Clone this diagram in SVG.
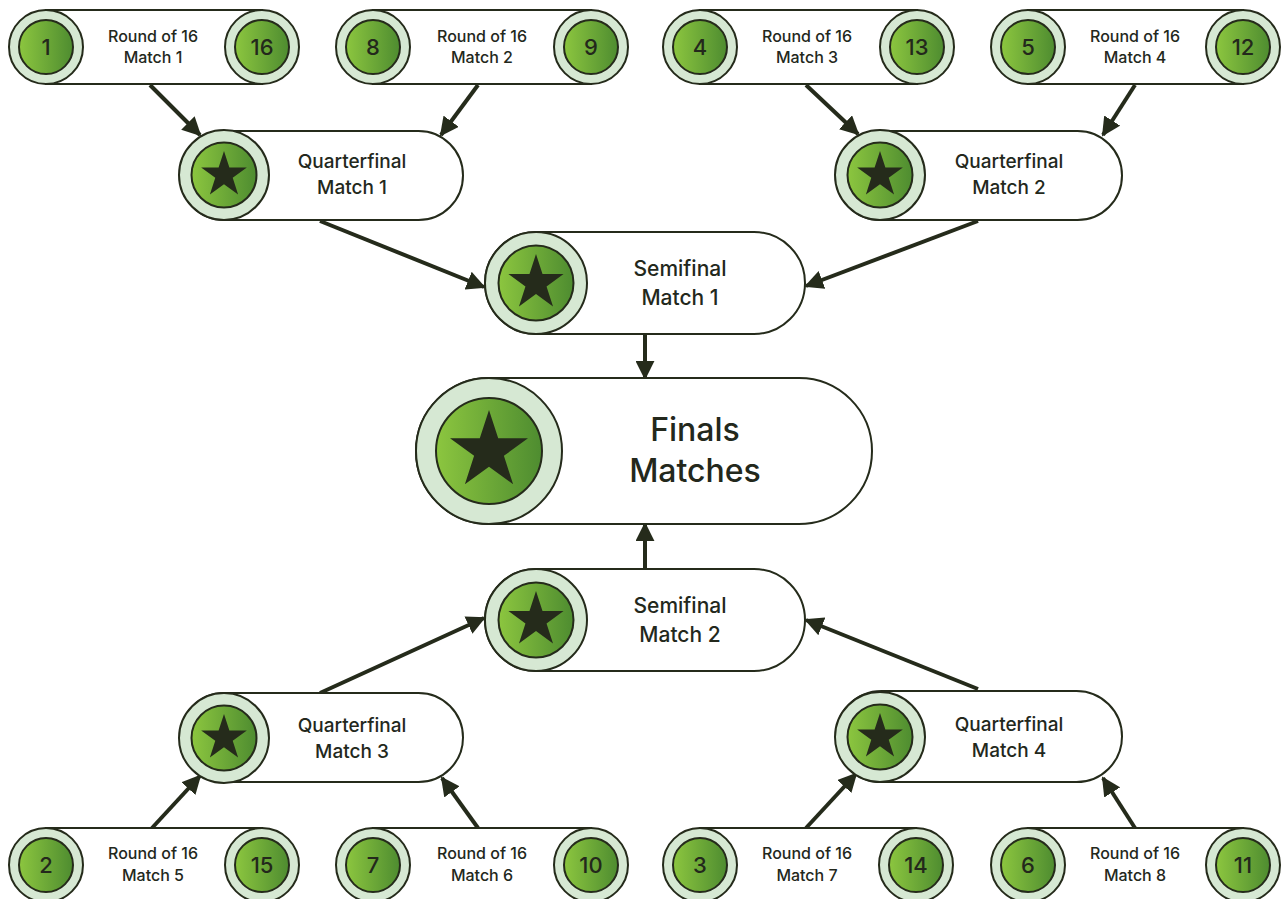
<svg xmlns="http://www.w3.org/2000/svg" xmlns:xlink="http://www.w3.org/1999/xlink" width="1286" height="899" viewBox="0 0 1286 899">
<defs>
<linearGradient id="g" x1="0" y1="0" x2="1" y2="0">
<stop offset="0" stop-color="#8cc63f"/>
<stop offset="1" stop-color="#4e8c30"/>
</linearGradient>
<path id="star" d="M0,-1 L0.2245,-0.309 L0.9511,-0.309 L0.3633,0.118 L0.5878,0.809 L0,0.382 L-0.5878,0.809 L-0.3633,0.118 L-0.9511,-0.309 L-0.2245,-0.309Z"/>
<marker id="ah" viewBox="0 0 10 10" refX="9" refY="5" markerWidth="19" markerHeight="19" markerUnits="userSpaceOnUse" orient="auto">
<path d="M0,0 L10,5 L0,10 Z" fill="#252b1b"/>
</marker>
</defs>
<style>
.pill{fill:#fff;stroke:#252b1b;stroke-width:2}
.ring{fill:#d6e8d3;stroke:#252b1b;stroke-width:2}
.core{fill:url(#g);stroke:#252b1b;stroke-width:2}
.st{fill:#252b1b}
.num,.t16,.tqf,.tsf,.tf{font-family:Inter,"Liberation Sans",sans-serif;font-weight:500;fill:#23281c;text-anchor:middle}
.num{font-size:22px}
.t16{font-size:16px}
.tqf{font-size:19px}
.tsf{font-size:21px}
.tf{font-size:32px}
.arr{stroke:#252b1b;stroke-width:4;fill:none;marker-end:url(#ah)}
</style>
<rect width="1286" height="899" fill="#fff"/>

<g id="connectors">
<line class="arr" x1="150" y1="85" x2="200" y2="135"/>
<line class="arr" x1="478" y1="85" x2="441" y2="135"/>
<line class="arr" x1="806" y1="85" x2="858" y2="134"/>
<line class="arr" x1="1135" y1="85" x2="1103" y2="135"/>
<line class="arr" x1="320" y1="221" x2="484" y2="287"/>
<line class="arr" x1="978" y1="221" x2="806" y2="286"/>
<line class="arr" x1="645" y1="334" x2="645" y2="378"/>
<line class="arr" x1="645" y1="569" x2="645" y2="524"/>
<line class="arr" x1="320" y1="693" x2="484" y2="618"/>
<line class="arr" x1="978" y1="689" x2="806" y2="620"/>
<line class="arr" x1="152" y1="828" x2="200" y2="776"/>
<line class="arr" x1="478" y1="828" x2="442" y2="778"/>
<line class="arr" x1="806" y1="828" x2="856" y2="774"/>
<line class="arr" x1="1135" y1="828" x2="1103" y2="778"/>
</g>

<g id="r16-m1">
<rect class="pill" x="46" y="10" width="216" height="74"/>
<circle class="ring" cx="46" cy="47" r="37"/><circle class="core" cx="46" cy="47" r="27"/>
<circle class="ring" cx="262" cy="47" r="37"/><circle class="core" cx="262" cy="47" r="27"/>
<text class="num" x="46" y="55">1</text><text class="num" x="262" y="55">16</text>
<text class="t16" x="153" y="42">Round of 16</text><text class="t16" x="153" y="63">Match 1</text>
</g>
<g id="r16-m2">
<rect class="pill" x="373" y="10" width="218" height="74"/>
<circle class="ring" cx="373" cy="47" r="37"/><circle class="core" cx="373" cy="47" r="27"/>
<circle class="ring" cx="591" cy="47" r="37"/><circle class="core" cx="591" cy="47" r="27"/>
<text class="num" x="373" y="55">8</text><text class="num" x="591" y="55">9</text>
<text class="t16" x="482" y="42">Round of 16</text><text class="t16" x="482" y="63">Match 2</text>
</g>
<g id="r16-m3">
<rect class="pill" x="700" y="10" width="217" height="74"/>
<circle class="ring" cx="700" cy="47" r="37"/><circle class="core" cx="700" cy="47" r="27"/>
<circle class="ring" cx="917" cy="47" r="37"/><circle class="core" cx="917" cy="47" r="27"/>
<text class="num" x="700" y="55">4</text><text class="num" x="917" y="55">13</text>
<text class="t16" x="807" y="42">Round of 16</text><text class="t16" x="807" y="63">Match 3</text>
</g>
<g id="r16-m4">
<rect class="pill" x="1028" y="10" width="215" height="74"/>
<circle class="ring" cx="1028" cy="47" r="37"/><circle class="core" cx="1028" cy="47" r="27"/>
<circle class="ring" cx="1243" cy="47" r="37"/><circle class="core" cx="1243" cy="47" r="27"/>
<text class="num" x="1028" y="55">5</text><text class="num" x="1243" y="55">12</text>
<text class="t16" x="1135" y="42">Round of 16</text><text class="t16" x="1135" y="63">Match 4</text>
</g>

<g id="r16-m5">
<rect class="pill" x="46" y="828" width="216" height="74"/>
<circle class="ring" cx="46" cy="865" r="37"/><circle class="core" cx="46" cy="865" r="27"/>
<circle class="ring" cx="262" cy="865" r="37"/><circle class="core" cx="262" cy="865" r="27"/>
<text class="num" x="46" y="873">2</text><text class="num" x="262" y="873">15</text>
<text class="t16" x="153" y="859">Round of 16</text><text class="t16" x="153" y="881">Match 5</text>
</g>
<g id="r16-m6">
<rect class="pill" x="373" y="828" width="218" height="74"/>
<circle class="ring" cx="373" cy="865" r="37"/><circle class="core" cx="373" cy="865" r="27"/>
<circle class="ring" cx="591" cy="865" r="37"/><circle class="core" cx="591" cy="865" r="27"/>
<text class="num" x="373" y="873">7</text><text class="num" x="591" y="873">10</text>
<text class="t16" x="482" y="859">Round of 16</text><text class="t16" x="482" y="881">Match 6</text>
</g>
<g id="r16-m7">
<rect class="pill" x="700" y="828" width="216" height="74"/>
<circle class="ring" cx="700" cy="865" r="37"/><circle class="core" cx="700" cy="865" r="27"/>
<circle class="ring" cx="916" cy="865" r="37"/><circle class="core" cx="916" cy="865" r="27"/>
<text class="num" x="700" y="873">3</text><text class="num" x="916" y="873">14</text>
<text class="t16" x="807" y="859">Round of 16</text><text class="t16" x="807" y="881">Match 7</text>
</g>
<g id="r16-m8">
<rect class="pill" x="1028" y="828" width="215" height="74"/>
<circle class="ring" cx="1028" cy="865" r="37"/><circle class="core" cx="1028" cy="865" r="27"/>
<circle class="ring" cx="1243" cy="865" r="37"/><circle class="core" cx="1243" cy="865" r="27"/>
<text class="num" x="1028" y="873">6</text><text class="num" x="1243" y="873">11</text>
<text class="t16" x="1135" y="859">Round of 16</text><text class="t16" x="1135" y="881">Match 8</text>
</g>

<g id="qf1">
<rect class="pill" x="180" y="131" width="283" height="89" rx="44.5"/>
<circle class="ring" cx="224" cy="175" r="45"/><circle class="core" cx="224" cy="175" r="32.5"/>
<use xlink:href="#star" class="st" transform="translate(224,175) scale(24)"/>
<text class="tqf" x="352" y="168">Quarterfinal</text><text class="tqf" x="352" y="194">Match 1</text>
</g>
<g id="qf2">
<rect class="pill" x="836" y="131" width="286" height="89" rx="44.5"/>
<circle class="ring" cx="880" cy="175" r="45"/><circle class="core" cx="880" cy="175" r="32.5"/>
<use xlink:href="#star" class="st" transform="translate(880,175) scale(24)"/>
<text class="tqf" x="1009" y="168">Quarterfinal</text><text class="tqf" x="1009" y="194">Match 2</text>
</g>
<g id="qf3">
<rect class="pill" x="180" y="693" width="283" height="89" rx="44.5"/>
<circle class="ring" cx="224" cy="738" r="45"/><circle class="core" cx="224" cy="738" r="32.5"/>
<use xlink:href="#star" class="st" transform="translate(224,738) scale(24)"/>
<text class="tqf" x="352" y="732">Quarterfinal</text><text class="tqf" x="352" y="758">Match 3</text>
</g>
<g id="qf4">
<rect class="pill" x="836" y="691" width="286" height="91" rx="45.5"/>
<circle class="ring" cx="880" cy="737" r="45"/><circle class="core" cx="880" cy="737" r="32.5"/>
<use xlink:href="#star" class="st" transform="translate(880,737) scale(24)"/>
<text class="tqf" x="1009" y="731">Quarterfinal</text><text class="tqf" x="1009" y="757">Match 4</text>
</g>

<g id="sf1">
<rect class="pill" x="485" y="232" width="320" height="102" rx="51"/>
<circle class="ring" cx="536" cy="283" r="51"/><circle class="core" cx="536" cy="283" r="37.5"/>
<use xlink:href="#star" class="st" transform="translate(536,283) scale(29)"/>
<text class="tsf" x="680" y="276">Semifinal</text><text class="tsf" x="680" y="305">Match 1</text>
</g>
<g id="sf2">
<rect class="pill" x="485" y="569" width="320" height="102" rx="51"/>
<circle class="ring" cx="536" cy="620" r="51"/><circle class="core" cx="536" cy="620" r="37.5"/>
<use xlink:href="#star" class="st" transform="translate(536,620) scale(29)"/>
<text class="tsf" x="680" y="613">Semifinal</text><text class="tsf" x="680" y="642">Match 2</text>
</g>

<g id="finals">
<rect class="pill" x="416" y="378" width="456" height="146" rx="73"/>
<circle class="ring" cx="489" cy="451" r="73"/><circle class="core" cx="489" cy="451" r="53"/>
<use xlink:href="#star" class="st" transform="translate(489,451) scale(41)"/>
<text class="tf" x="695" y="441">Finals</text><text class="tf" x="695" y="482">Matches</text>
</g>
</svg>
